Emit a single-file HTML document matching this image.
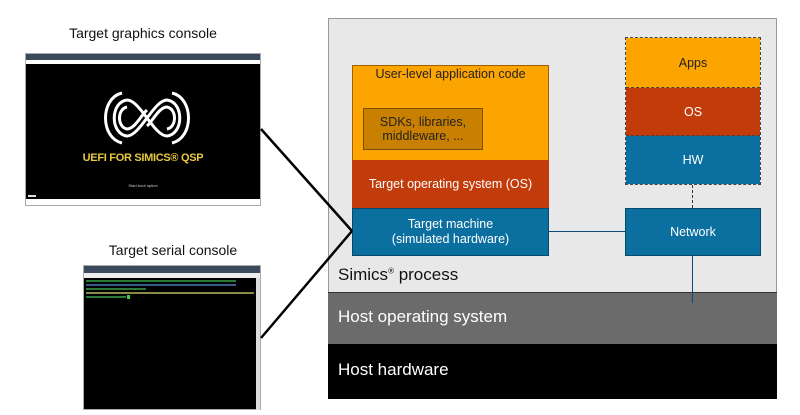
<!DOCTYPE html>
<html><head><meta charset="utf-8"><style>
*{margin:0;padding:0;box-sizing:border-box}
body{width:800px;height:415px;background:#fff;position:relative;overflow:hidden;font-family:"Liberation Sans","DejaVu Sans",sans-serif}
.a{position:absolute}
.c{display:flex;align-items:center;justify-content:center;text-align:center}
</style></head><body>

<div class="a" style="left:40px;top:25px;width:206px;text-align:center;font-size:14px;color:#111">Target graphics console</div>
<div class="a" style="left:25px;top:53px;width:236px;height:153px;background:#000;border:1px solid #aaa">
  <div class="a" style="left:0;top:0;width:100%;height:6px;background:#3a4a5a"></div>
  <div class="a" style="left:0;top:6px;width:100%;height:4px;background:#fff"></div>
  <div class="a" style="left:0;bottom:0;width:100%;height:6px;background:#fff"></div>
  <div class="a" style="left:2px;bottom:8px;width:8px;height:2px;background:#ddd"></div>
  <svg class="a" style="left:76px;top:36px" width="90" height="56" viewBox="0 0 90 56">
    <g fill="none" stroke="#fff" stroke-width="3">
      <path d="M20 3 C-2 8 -2 48 20 53"/><path d="M70 3 C92 8 92 48 70 53"/>
      <path d="M25 10 C8 12 8 44 25 46 C38 46 52 10 65 10 C82 12 82 44 65 46 C52 46 38 10 25 10"/>
      <path d="M25 17 C15 19 15 37 25 39 C33 39 40 24 45 20"/>
      <path d="M65 39 C75 37 75 19 65 17 C57 17 50 32 45 36"/>
    </g>
  </svg>
  <div class="a" style="left:0;top:98px;width:100%;text-align:center;color:#e8c840;font-size:11px;font-weight:bold;letter-spacing:-0.3px">UEFI FOR SIMICS® QSP</div>
  <div class="a" style="left:0;top:129px;width:100%;text-align:center;color:#ccc;font-size:4px">Start boot option</div>
</div>

<div class="a" style="left:70px;top:242px;width:206px;text-align:center;font-size:14px;color:#111">Target serial console</div>
<div class="a" style="left:83px;top:265px;width:178px;height:145px;background:#000;border:1px solid #aaa">
  <div class="a" style="left:0;top:0;width:100%;height:7px;background:#3a4a5a"></div>
  <div class="a" style="left:0;top:7px;width:100%;height:5px;background:#eee"></div>
  <div class="a" style="right:0;top:12px;width:4px;height:132px;background:#ddd"></div>
  <div class="a" style="left:2px;top:14px;width:150px;height:2px;background:#2a7a3a"></div>
  <div class="a" style="left:2px;top:18px;width:150px;height:2px;background:#3a5a8a"></div>
  <div class="a" style="left:2px;top:22px;width:60px;height:2px;background:#2a7a3a"></div>
  <div class="a" style="left:2px;top:26px;width:168px;height:2px;background:#8a8a4a"></div>
  <div class="a" style="left:2px;top:30px;width:40px;height:2px;background:#2a7a3a"></div>
  <div class="a" style="left:43px;top:29px;width:3px;height:4px;background:#4c4"></div>
</div>

<div class="a" style="left:328px;top:18px;width:449px;height:275px;background:#e8e8e8;border:1px solid #999"></div>
<div class="a" style="left:352px;top:65px;width:197px;height:96px;background:#fca400;border:1px solid #a06000"></div>
<div class="a" style="left:352px;top:67px;width:197px;text-align:center;font-size:12.5px;color:#222">User-level application code</div>
<div class="a c" style="left:363px;top:108px;width:120px;height:42px;background:#c98000;border:1px solid #7a5000;font-size:12.5px;color:#222;line-height:14px">SDKs, libraries,<br>middleware, ...</div>
<div class="a c" style="left:352px;top:160px;width:197px;height:48px;background:#c23b0a;color:#fff;font-size:12.5px">Target operating system (OS)</div>
<div class="a c" style="left:352px;top:208px;width:197px;height:48px;background:#0b6fa0;border:1px solid #064a6a;color:#fff;font-size:12.5px;line-height:15px">Target machine<br>(simulated hardware)</div>

<div class="a" style="left:625px;top:37px;width:136px;height:148px;border:1px dashed #444"></div>
<div class="a c" style="left:626px;top:38px;width:134px;height:50px;background:#fca400;color:#222;font-size:12.5px;border-bottom:1px dashed #444">Apps</div>
<div class="a c" style="left:626px;top:88px;width:134px;height:48px;background:#c23b0a;color:#fff;font-size:12.5px;border-bottom:1px dashed #444">OS</div>
<div class="a c" style="left:626px;top:136px;width:134px;height:48px;background:#0b6fa0;color:#fff;font-size:12.5px">HW</div>
<div class="a" style="left:692px;top:185px;width:0;height:23px;border-left:1px dashed #333"></div>
<div class="a c" style="left:625px;top:208px;width:136px;height:48px;background:#0b6fa0;border:1px solid #064a6a;color:#fff;font-size:12.5px">Network</div>
<div class="a" style="left:549px;top:231px;width:76px;height:1px;background:#0b4a7a"></div>
<div class="a" style="left:692px;top:256px;width:1px;height:47px;background:#0b4a7a"></div>

<div class="a" style="left:338px;top:265px;font-size:17px;color:#111">Simics<sup style="font-size:8px">®</sup> process</div>
<div class="a" style="left:328px;top:292px;width:449px;height:52px;background:#6b6b6b;border-top:1px solid #333"></div>
<div class="a" style="left:692px;top:292px;width:1px;height:11px;background:#0b4a7a"></div>
<div class="a" style="left:338px;top:307px;font-size:17px;color:#fff">Host operating system</div>
<div class="a" style="left:328px;top:344px;width:449px;height:55px;background:#000"></div>
<div class="a" style="left:338px;top:360px;font-size:17px;color:#fff">Host hardware</div>

<svg class="a" style="left:0;top:0" width="800" height="415">
  <line x1="261" y1="129" x2="352" y2="231" stroke="#000" stroke-width="2.5"/>
  <line x1="261" y1="338" x2="352" y2="231" stroke="#000" stroke-width="2.5"/>
</svg>
</body></html>
